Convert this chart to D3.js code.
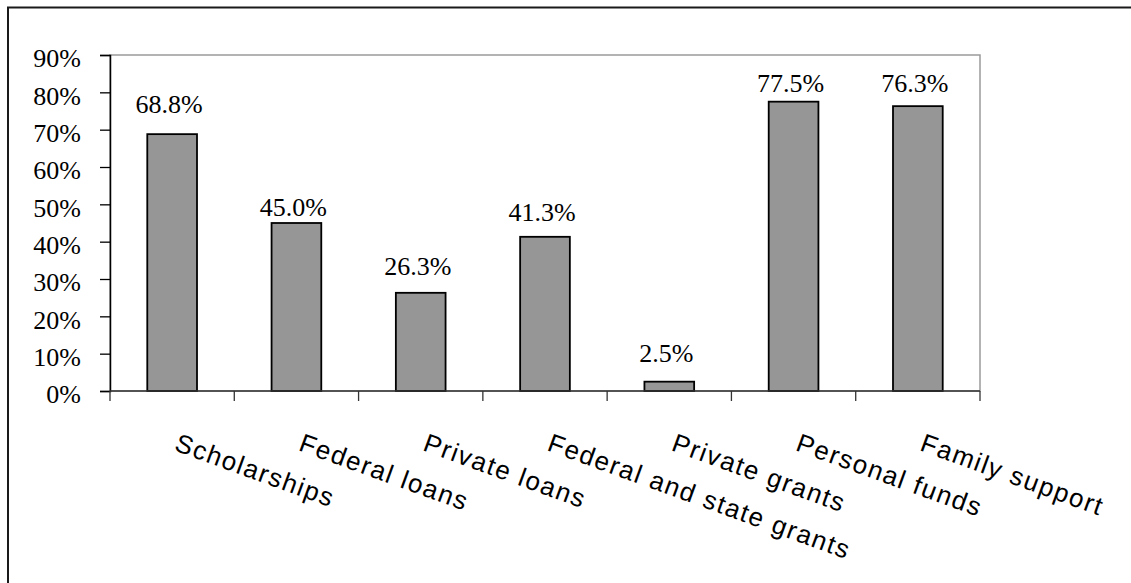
<!DOCTYPE html>
<html>
<head>
<meta charset="utf-8">
<script src="https://cdn.jsdelivr.net/npm/d3@7"></script>
<style>
  html, body { margin: 0; padding: 0; background: #fff; }
  svg { display: block; }
</style>
</head>
<body>
<svg id="chart" width="1131" height="583"></svg>
<script>
// Funding sources and share of respondents using each
const categories = ["Scholarships", "Federal loans", "Private loans", "Federal and state grants", "Private grants", "Personal funds", "Family support"];
const shares = [68.8, 45.0, 26.3, 41.3, 2.5, 77.5, 76.3];
const yTicks = [0, 10, 20, 30, 40, 50, 60, 70, 80, 90];

const svg = d3.select("#chart");
const W = 1131, H = 583;
const plot = { left: 110, right: 980, top: 55, bottom: 391 };

// Gap (px) between each bar top and its value label baseline
const labelGap = {
  "Scholarships": 21,
  "Federal loans": 7,
  "Private loans": 18,
  "Federal and state grants": 16,
  "Private grants": 20,
  "Personal funds": 9.5,
  "Family support": 14
};

// Outer chart frame (runs past the right and bottom edges)
svg.append("rect")
  .attr("x", 8).attr("y", 7.5)
  .attr("width", W + 20).attr("height", H + 20)
  .attr("fill", "#fff").attr("stroke", "#1a1a1a").attr("stroke-width", 2);

const x = d3.scaleBand().domain(categories).range([plot.left, plot.right]).padding(0);
const y = d3.scaleLinear().domain([0, 90]).range([plot.bottom, plot.top]);

// Plot area border
svg.append("rect")
  .attr("x", plot.left).attr("y", plot.top)
  .attr("width", plot.right - plot.left).attr("height", plot.bottom - plot.top)
  .attr("fill", "none").attr("stroke", "#9a9a9a").attr("stroke-width", 1.5);

// Bars
const barW = x.bandwidth() * 0.4;
svg.append("g").selectAll("rect")
  .data(shares)
  .join("rect")
  .attr("x", (d, i) => x(categories[i]) + (x.bandwidth() - barW) / 2)
  .attr("y", d => y(d))
  .attr("width", barW)
  .attr("height", d => y(0) - y(d))
  .attr("fill", "#969696")
  .attr("stroke", "#000")
  .attr("stroke-width", 1.8);

// Value labels
svg.append("g").selectAll("text")
  .data(shares)
  .join("text")
  .attr("x", (d, i) => x(categories[i]) + x.bandwidth() / 2 - 3)
  .attr("y", (d, i) => y(d) - labelGap[categories[i]])
  .attr("text-anchor", "middle")
  .attr("font-family", "'Liberation Serif', 'Times New Roman', serif")
  .attr("font-size", 26)
  .attr("fill", "#000")
  .text(d => d.toFixed(1) + "%");

// Y axis
const yAxis = d3.axisLeft(y)
  .tickValues(yTicks)
  .tickSize(10)
  .tickPadding(19)
  .tickFormat(d => d + "%");
const yg = svg.append("g")
  .attr("transform", `translate(${plot.left},0)`)
  .call(yAxis);
yg.select(".domain").attr("stroke", "#000").attr("stroke-width", 1.5);
yg.selectAll(".tick line").attr("stroke", "#000").attr("stroke-width", 1.3);
yg.selectAll(".tick text")
  .attr("font-family", "'Liberation Serif', 'Times New Roman', serif")
  .attr("font-size", 26)
  .attr("fill", "#000")
  .attr("dy", "0.45em");

// X axis with ticks between categories
const boundaries = categories.map(c => x(c)).concat([x(categories[categories.length - 1]) + x.bandwidth()]);
const xg = svg.append("g");
xg.append("line")
  .attr("x1", plot.left).attr("x2", plot.right)
  .attr("y1", y(0)).attr("y2", y(0))
  .attr("stroke", "#333").attr("stroke-width", 1.5);
xg.selectAll("line.tick")
  .data(boundaries)
  .join("line")
  .attr("class", "tick")
  .attr("x1", d => d).attr("x2", d => d)
  .attr("y1", y(0)).attr("y2", y(0) + 10)
  .attr("stroke", "#333").attr("stroke-width", 1.3);

// Rotated category labels
svg.append("g").selectAll("text")
  .data(categories)
  .join("text")
  .attr("transform", d => `translate(${x(d) + x.bandwidth() / 2 + 1},${y(0) + 59}) rotate(20)`)
  .attr("text-anchor", "start")
  .attr("font-family", "'Liberation Sans', Arial, sans-serif")
  .attr("font-size", 26)
  .attr("letter-spacing", 1.6)
  .attr("fill", "#000")
  .text(d => d);
</script>
</body>
</html>
